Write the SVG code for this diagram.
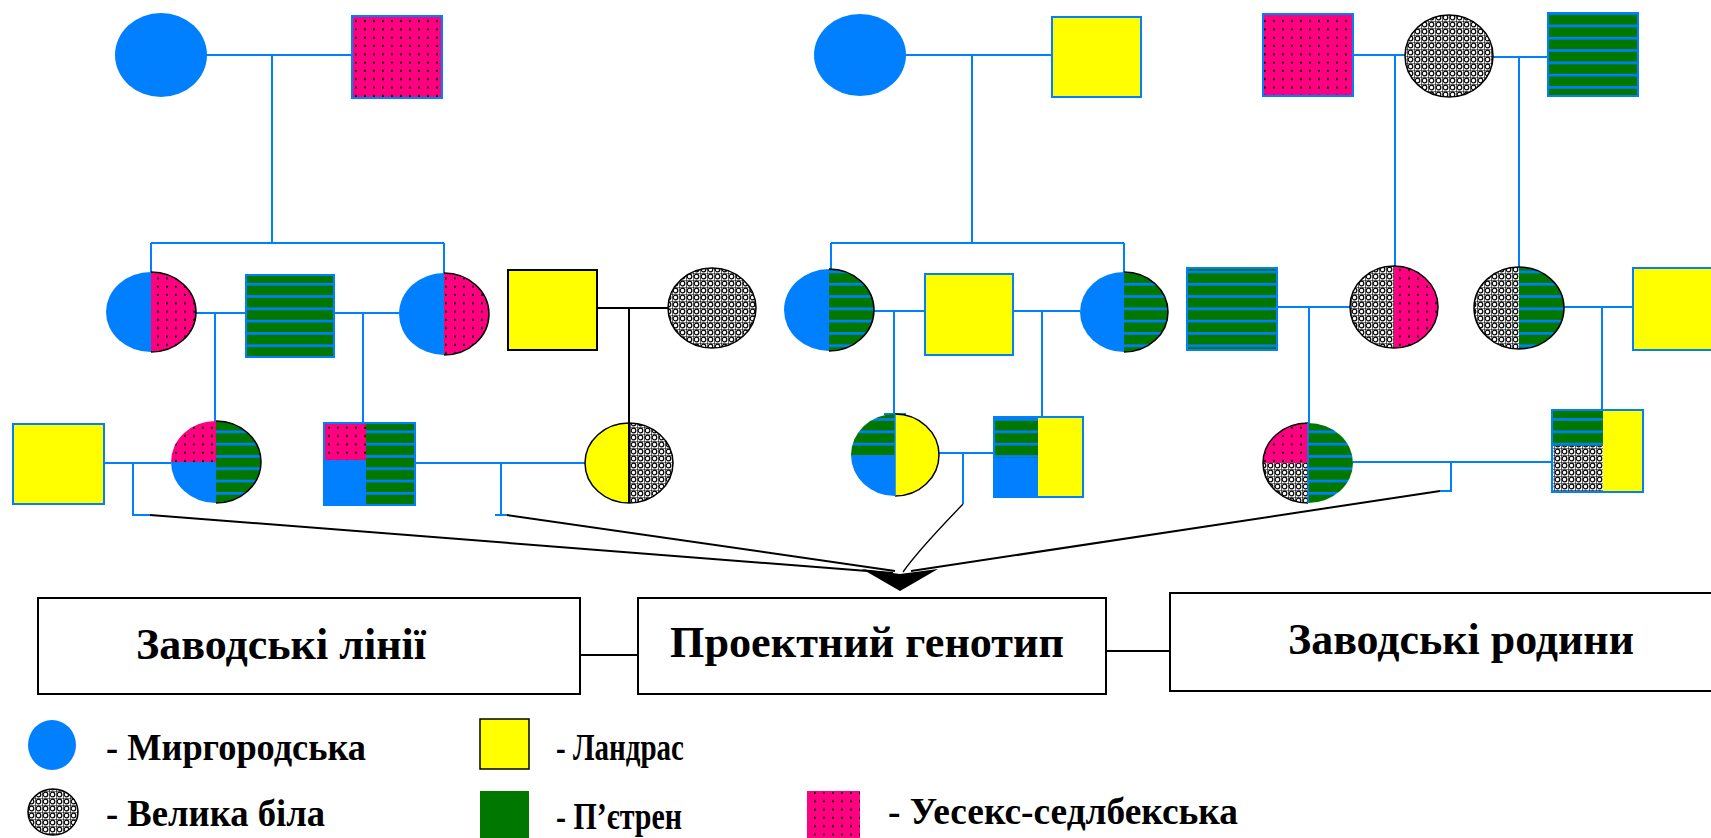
<svg xmlns="http://www.w3.org/2000/svg" width="1711" height="838" viewBox="0 0 1711 838">
<defs>
<pattern id="dots" width="9" height="8.3" patternUnits="userSpaceOnUse"><rect width="9" height="8.3" fill="#FF0080"/><rect x="4" y="3.5" width="1.8" height="2" fill="#000"/></pattern>
<pattern id="stripes" width="8" height="12.3" patternUnits="userSpaceOnUse"><rect width="8" height="12.3" fill="#007800"/><rect width="8" height="2.6" fill="#0080FF"/></pattern>
<pattern id="mesh" width="7" height="7" patternUnits="userSpaceOnUse"><rect width="7" height="7" fill="#fff"/><circle cx="3.5" cy="3.5" r="2.3" fill="none" stroke="#000" stroke-width="1.2"/><path d="M0,0H7M0,0V7" stroke="#000" stroke-width="1.2"/></pattern>
</defs>
<style>
.b{stroke:#0080FF;stroke-width:2;fill:none}
.k{stroke:#000;stroke-width:2;fill:none}
.kt{stroke:#000;stroke-width:1.3;fill:none}
.blue{fill:#0080FF}
.pink{fill:url(#dots)}
.green{fill:url(#stripes)}
.grey{fill:url(#mesh)}
.yel{fill:#FFFF00}
.sq{stroke:#0080FF;stroke-width:2}
.ol{fill:none;stroke:#000;stroke-width:1.5}
.box{fill:#fff;stroke:#000;stroke-width:2}
.t{font-family:"Liberation Serif","Times New Roman",serif;font-weight:bold;fill:#000}
.bt{font-size:44px}
.lt{font-size:37px}
</style>
<rect width="1711" height="838" fill="#fff"/>

<g id="connectors">
<path class="b" d="M206,55H352M272,55V243M151,243H444M151,243V272M444,243V273"/>
<path class="b" d="M196,313H246M334,313H399M215,313V421M363,313V423"/>
<path class="b" d="M104,463H171M133,463V515H150M415,463H585M501,463V515M495,515H507"/>
<path class="k" d="M597,308H668M629,308V423"/>
<path class="b" d="M906,55H1052M972,55V243M831,243H1124M831,243V269M1124,243V272"/>
<path class="b" d="M874,311H925M1013,311H1080M894,311V414M884,414H906M1042,311V417M939,453H994M963,453V504"/>
<path class="b" d="M1352,55H1405M1395,55V266M1493,57H1548M1519,57V267"/>
<path class="b" d="M1277,307H1350M1309,307V423M1564,307H1633M1602,307V410M1353,462H1552M1451,462V491H1440"/>
<path class="k" d="M150,515L893,573M507,515L895,571M1440,491L911,571"/>
<path class="kt" d="M963,504C948,520 920,548 903,572"/>
<polygon points="862,569 900,574 938,569 900,591" fill="#000"/>
<path class="k" d="M580,655H638M1106,651H1170"/>
</g>

<g id="n1"><ellipse cx="161" cy="55" rx="46" ry="42" class="blue"/></g>
<g id="n2"><rect x="352" y="16" width="90" height="82" class="pink sq"/></g>
<g id="n3"><ellipse cx="860" cy="55" rx="46" ry="41" class="blue"/></g>
<g id="n4"><rect x="1052" y="17" width="89" height="80" class="yel sq"/></g>
<g id="n5"><rect x="1263" y="14" width="90" height="82" class="pink sq"/></g>
<g id="n6"><ellipse cx="1449" cy="56" rx="44" ry="41" class="grey"/><ellipse cx="1449" cy="56" rx="44" ry="41" class="ol"/></g>
<g id="n7"><rect x="1548" y="13" width="90" height="83" class="green sq"/></g>

<g id="n8"><path class="blue" d="M151,272A45,40 0 0 0 151,352Z"/><path class="pink" d="M151,272A45,40 0 0 1 151,352Z"/><path class="ol" d="M151,272A45,40 0 0 1 151,352"/></g>
<g id="n9"><rect x="246" y="275" width="88" height="82" class="green sq"/></g>
<g id="n10"><path class="blue" d="M444,273A45,41 0 0 0 444,355Z"/><path class="pink" d="M444,273A45,41 0 0 1 444,355Z"/><path class="ol" d="M444,273A45,41 0 0 1 444,355"/></g>
<g id="n11"><rect x="508" y="270" width="89" height="80" class="yel" stroke="#000" stroke-width="2"/></g>
<g id="n12"><ellipse cx="712" cy="308" rx="44" ry="40" class="grey"/><ellipse cx="712" cy="308" rx="44" ry="40" class="ol"/></g>
<g id="n13"><path class="blue" d="M829,269A45,41 0 0 0 829,351Z"/><path class="green" d="M829,269A45,41 0 0 1 829,351Z"/><path class="ol" d="M829,269A45,41 0 0 1 829,351"/></g>
<g id="n14"><rect x="925" y="274" width="88" height="81" class="yel sq"/></g>
<g id="n15"><path class="blue" d="M1124,272A44,40 0 0 0 1124,352Z"/><path class="green" d="M1124,272A44,40 0 0 1 1124,352Z"/><path class="ol" d="M1124,272A44,40 0 0 1 1124,352"/></g>
<g id="n16"><rect x="1187" y="268" width="90" height="82" class="green sq"/></g>
<g id="n17"><path class="grey" d="M1394,266A44,41 0 0 0 1394,348Z"/><path class="pink" d="M1394,266A44,41 0 0 1 1394,348Z"/><ellipse cx="1394" cy="307" rx="44" ry="41" class="ol"/></g>
<g id="n18"><path class="grey" d="M1519,267A45,41 0 0 0 1519,349Z"/><path class="green" d="M1519,267A45,41 0 0 1 1519,349Z"/><ellipse cx="1519" cy="308" rx="45" ry="41" class="ol"/></g>
<g id="n19"><rect x="1633" y="268" width="90" height="82" class="yel sq"/></g>

<g id="n20"><rect x="13" y="424" width="91" height="80" class="yel sq"/></g>
<g id="n21"><path class="pink" d="M216,462L216,421A45,41 0 0 0 171,462Z"/><path class="blue" d="M216,462L171,462A45,41 0 0 0 216,503Z"/><path class="green" d="M216,421A45,41 0 0 1 216,503Z"/><path class="ol" d="M216,421A45,41 0 0 1 216,503"/></g>
<g id="n22"><rect x="324" y="423" width="42" height="37" class="pink"/><rect x="324" y="460" width="42" height="45" class="blue"/><rect x="366" y="423" width="49" height="82" class="green"/><rect x="324" y="423" width="91" height="82" fill="none" class="sq"/></g>
<g id="n23"><path class="yel" d="M629,423A44,40 0 0 0 629,503Z"/><path class="grey" d="M629,423A44,40 0 0 1 629,503Z"/><ellipse cx="629" cy="463" rx="44" ry="40" class="ol"/><path d="M629,423V503" stroke="#000" stroke-width="2"/></g>
<g id="n24"><path class="green" d="M895,455L895,414A44,41 0 0 0 851,455Z"/><path class="blue" d="M895,455L851,455A44,41 0 0 0 895,496Z"/><path class="yel" d="M895,414A44,41 0 0 1 895,496Z"/><path class="ol" d="M895,414A44,41 0 0 1 895,496"/><path d="M895,414V496" stroke="#0080FF" stroke-width="1.5"/></g>
<g id="n25"><rect x="994" y="417" width="44" height="41" class="green"/><rect x="994" y="458" width="44" height="39" class="blue"/><rect x="1038" y="417" width="45" height="80" class="yel"/><rect x="994" y="417" width="89" height="80" fill="none" class="sq"/></g>
<g id="n26"><path class="pink" d="M1308,463L1308,423A45,40 0 0 0 1263,463Z"/><path class="grey" d="M1308,463L1263,463A45,40 0 0 0 1308,503Z"/><path class="green" d="M1308,423A45,40 0 0 1 1308,503Z"/><path class="ol" d="M1308,423A45,40 0 0 0 1263,463A45,40 0 0 0 1308,503"/><path d="M1308,423V503" stroke="#0080FF" stroke-width="1.5"/></g>
<g id="n27"><rect x="1552" y="410" width="51" height="36" class="green"/><rect x="1552" y="446" width="51" height="46" class="grey"/><rect x="1603" y="410" width="40" height="82" class="yel"/><rect x="1552" y="410" width="91" height="82" fill="none" class="sq"/></g>

<g id="box1"><rect x="38" y="598" width="542" height="96" class="box"/><text x="136" y="659" class="t bt" textLength="290" lengthAdjust="spacingAndGlyphs">Заводські лінії</text></g>
<g id="box2"><rect x="638" y="598" width="468" height="96" class="box"/><text x="670" y="657" class="t bt" textLength="394" lengthAdjust="spacingAndGlyphs">Проектний генотип</text></g>
<g id="box3"><rect x="1170" y="593" width="560" height="98" class="box"/><text x="1288" y="654" class="t bt" textLength="346" lengthAdjust="spacingAndGlyphs">Заводські родини</text></g>

<g id="legend">
<ellipse cx="52" cy="745" rx="24" ry="25" class="blue"/>
<text x="106" y="760" class="t lt" textLength="260" lengthAdjust="spacingAndGlyphs">- Миргородська</text>
<rect x="480" y="719" width="49" height="50" class="yel" stroke="#000" stroke-width="1.5"/>
<text x="556" y="760" class="t lt" textLength="128" lengthAdjust="spacingAndGlyphs">- Ландрас</text>
<ellipse cx="53" cy="812" rx="25" ry="23" class="grey"/><ellipse cx="53" cy="812" rx="25" ry="23" class="ol"/>
<text x="106" y="826" class="t lt" textLength="219" lengthAdjust="spacingAndGlyphs">- Велика біла</text>
<rect x="480" y="791" width="49" height="47" fill="#007800"/>
<text x="556" y="829" class="t lt" textLength="126" lengthAdjust="spacingAndGlyphs">- П’єтрен</text>
<rect x="807" y="791" width="53" height="47" class="pink"/>
<text x="888" y="824" class="t lt" textLength="350" lengthAdjust="spacingAndGlyphs">- Уесекс-седлбекська</text>
</g>
</svg>
